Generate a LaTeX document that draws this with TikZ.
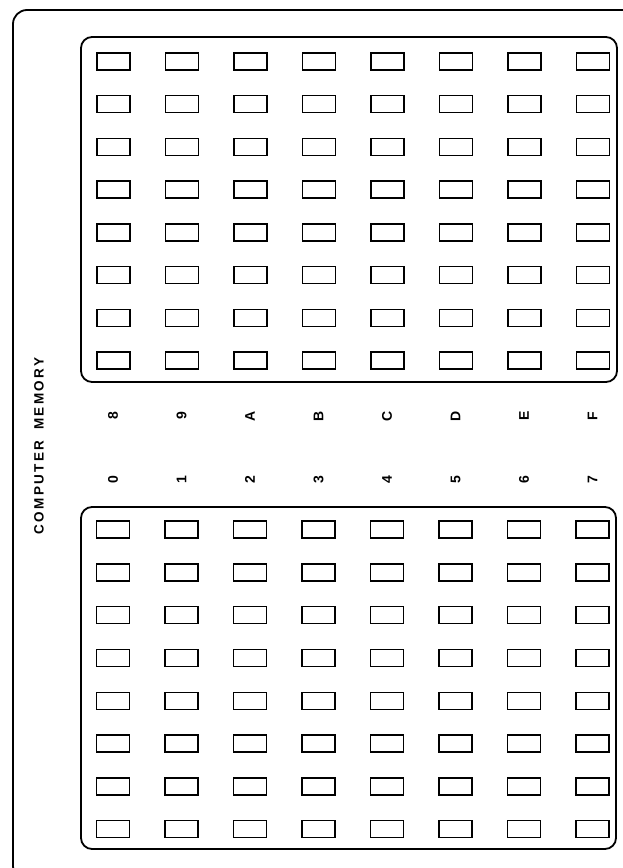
\documentclass[tikz,border=0pt]{standalone}
\usepackage{fontspec}
\setmainfont{Liberation Sans}
\newfontfamily\rotfont[LetterSpace=17]{Liberation Sans}
\usepackage{tikz}
\usetikzlibrary{positioning}

\begin{document}
\begin{tikzpicture}[
  x=1pt, y=-1pt,
  marco/.style={draw=black, line width=1.8pt, rounded corners=11pt},
  celda/.style={draw=black, line width=1.4pt, minimum width=33pt,
                minimum height=17pt, inner sep=0pt},
  rotulo/.style={rotate=90, font=\bfseries\fontsize{14}{15}\selectfont, inner sep=1pt},
  titulo/.style={rotate=90, font=\rotfont\bfseries\fontsize{13.5}{15}\selectfont},
]
  \useasboundingbox (0,0) rectangle (623,868);
  \clip (0,0) rectangle (623,868);

  % outer frame and the two banks
  \draw[marco, rounded corners=14pt] (13,10) rectangle (650,880);
  \draw[marco] (81,37)  rectangle (617,382);
  \draw[marco] (81,507) rectangle (616,849);

  \node[titulo] (titulo) at (39,446) {COMPUTER\hspace{5pt} MEMORY};

  % cells of both banks
  \foreach \i in {0,...,7}{
    \foreach \j in {0,...,7}{
      \node[celda] (alta-\i-\j) at ({113.5+68.5*\i},{61.5+42.7*\j}) {};
      \node[celda] (baja-\i-\j) at ({113+68.5*\i},{529.5+42.8*\j}) {};
    }
  }

  % bank numbers
  \foreach \a [count=\i from 0] in {8,9,A,B,C,D,E,F}
    \node[rotulo] (num-alta-\i) at ({113+68.5*\i},416) {\a};
  \foreach \b [count=\i from 0] in {0,1,2,3,4,5,6,7}
    \node[rotulo] (num-baja-\i) at ({113+68.5*\i},480) {\b};
\end{tikzpicture}
\end{document}
